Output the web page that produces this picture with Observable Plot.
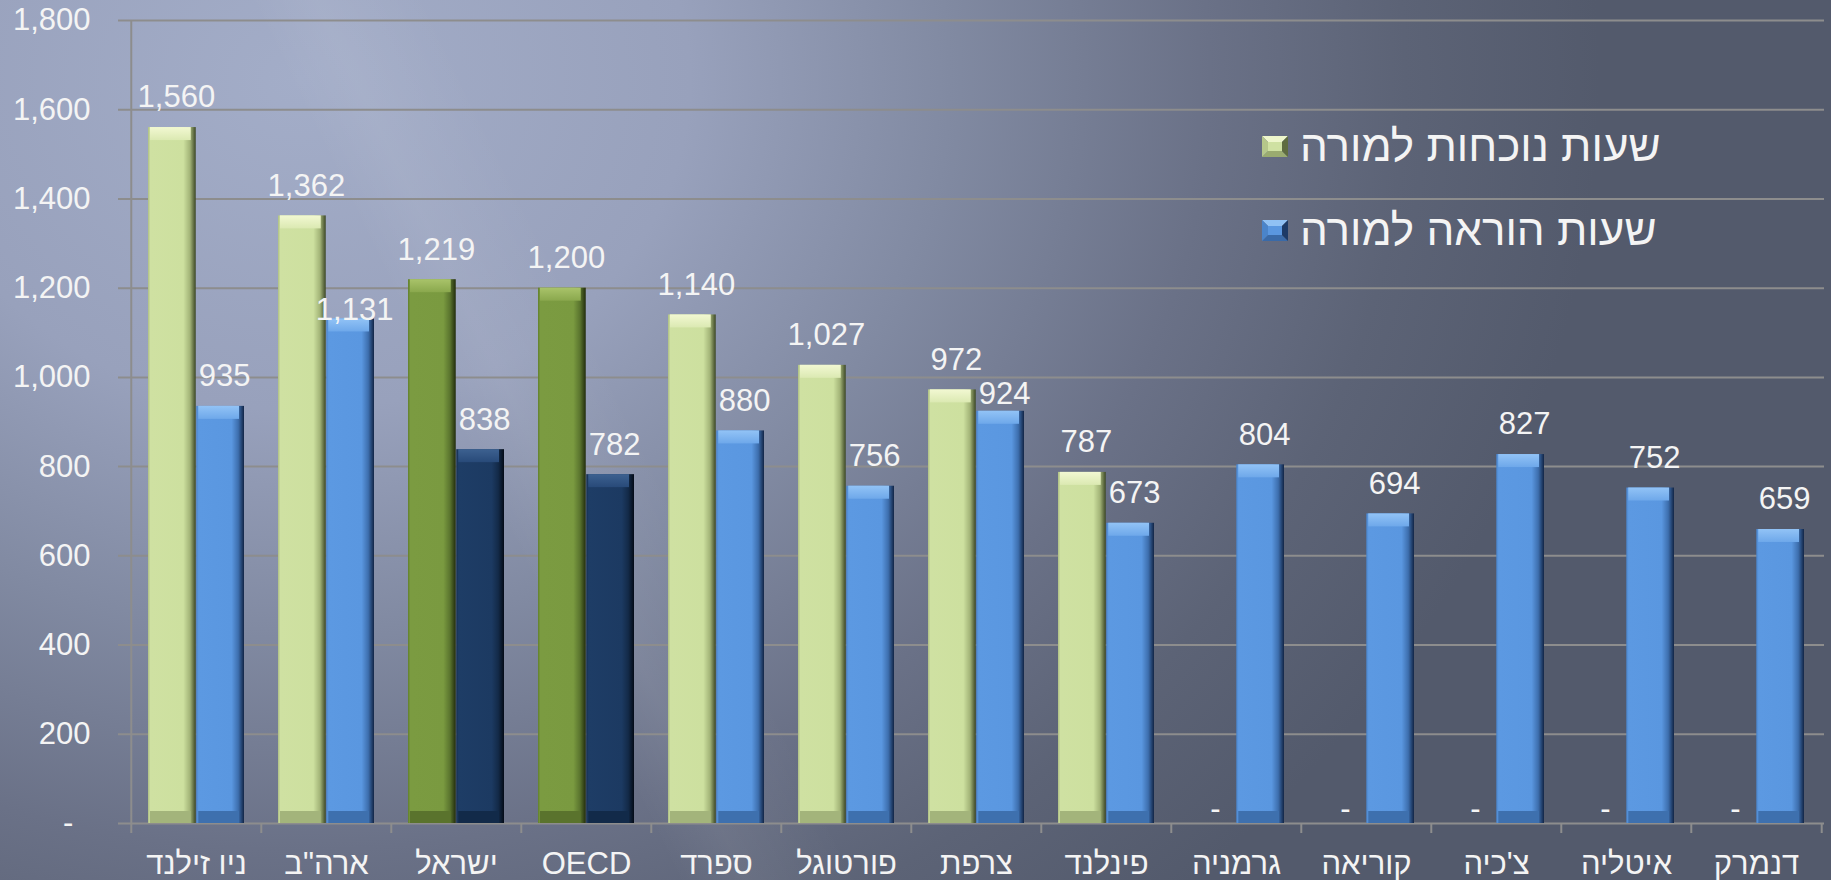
<!DOCTYPE html>
<html><head><meta charset="utf-8">
<script src="https://cdn.jsdelivr.net/npm/d3@7"></script>
<script src="https://cdn.jsdelivr.net/npm/@observablehq/plot@0.6"></script>
<style>
html,body{margin:0;padding:0;}
body{width:1831px;height:880px;overflow:hidden;}
#wrap{position:relative;width:1831px;height:880px;overflow:hidden;
 font-family:"Liberation Sans", Arial, sans-serif;
 background:
  linear-gradient(64deg, rgba(255,255,255,0) 0%, rgba(255,255,255,0) 30%, rgba(255,255,255,0.06) 33%, rgba(255,255,255,0) 38%, rgba(255,255,255,0) 100%),
  radial-gradient(ellipse 1300px 1100px at 300px 80px, #a3adc8 0%, #98a1bc 30%, #818aa2 50%, #6a7187 70%, #5c6376 85%, #535a6c 100%);
 background-color:#50576a;
}
#chart{position:absolute;left:0;top:0;}
#legend{position:absolute;left:1262px;top:104px;color:#f4f4f4;font-size:44px;}
.row{display:flex;align-items:center;height:84px;}
.row svg{margin-right:12px;}
</style></head><body><div id="wrap"><div id="chart"></div><div id="legend"></div></div>
<script>
// ---- data ----
const countries = ["ניו זילנד", "ארה\"ב", "ישראל", "OECD", "ספרד", "פורטוגל", "צרפת", "פינלנד", "גרמניה", "קוריאה", "צ'כיה", "איטליה", "דנמרק"];
const presenceHours = [1560, 1362, 1219, 1200, 1140, 1027, 972, 787, 0, 0, 0, 0, 0];
const teachingHours = [935, 1131, 838, 782, 880, 756, 924, 673, 804, 694, 827, 752, 659];
const highlighted = ["ישראל", "OECD"];
const yTicks = [0, 200, 400, 600, 800, 1000, 1200, 1400, 1600, 1800];
const seriesNames = ["שעות נוכחות למורה", "שעות הוראה למורה"];

// ---- layout ----
const W = 1831, H = 880, mL = 128, mR = 7, mT = 20, mB = 57;
const n = countries.length;
const step = (W - mL - mR) / n;
const padIn = 0.26, padOut = 0.13;
const bw = step * (1 - padIn);
const half = bw / 2;
const plotH = H - mT - mB;
const fmt = d3.format(",");
const gridColor = "#8d8d8d";

const rows = countries.map((c, i) => ({country: c, presence: presenceHours[i], teaching: teachingHours[i], hi: highlighted.includes(c)}));
const presRows = rows.filter(d => d.presence > 0);
const nudged = {"ארה\"ב": -9, "צרפת": -17};
const teachNormal = rows.filter(d => !(d.country in nudged));

const fillBody = (d, s) => s === 0 ? (d.hi ? "url(#gDG)" : "url(#gLG)") : (d.hi ? "url(#gN)" : "url(#gB)");
const fillTop = (d, s) => s === 0 ? (d.hi ? "url(#tDG)" : "url(#tLG)") : (d.hi ? "url(#tN)" : "url(#tB)");
const fillBot = (d, s) => s === 0 ? (d.hi ? "#5a732d" : "#a3b47b") : (d.hi ? "#122a49" : "#3e70ae");

const marks = [
  Plot.ruleY(yTicks, {stroke: gridColor, strokeWidth: 2, insetLeft: -10}),
  Plot.ruleX([countries[0]], {x: d => d, dx: -step / 2, stroke: gridColor, strokeWidth: 2, insetBottom: -10}),
  Plot.ruleX(countries.slice(1), {x: d => d, dx: -step / 2, stroke: gridColor, strokeWidth: 2, insetTop: plotH, insetBottom: -10}),
  Plot.ruleX([countries[n - 1]], {x: d => d, dx: step / 2, stroke: gridColor, strokeWidth: 2, insetTop: plotH, insetBottom: -10}),
  // presence bars
  Plot.barY(presRows, {x: "country", y: "presence", insetRight: half, fill: d => fillBody(d, 0)}),
  Plot.barY(presRows, {x: "country", y1: "presence", y2: "presence", insetRight: half + 5, insetLeft: 2, insetBottom: -13, fill: d => fillTop(d, 0)}),
  Plot.barY(presRows, {x: "country", y1: 0, y2: 0, insetRight: half + 5, insetLeft: 2, insetTop: -12, fill: d => fillBot(d, 0)}),
  // teaching bars
  Plot.barY(rows, {x: "country", y: "teaching", insetLeft: half, fill: d => fillBody(d, 1)}),
  Plot.barY(rows, {x: "country", y1: "teaching", y2: "teaching", insetLeft: half + 2, insetRight: 5, insetBottom: -13, fill: d => fillTop(d, 1)}),
  Plot.barY(rows, {x: "country", y1: 0, y2: 0, insetLeft: half + 2, insetRight: 5, insetTop: -12, fill: d => fillBot(d, 1)}),
  // value labels
  Plot.text(presRows, {x: "country", y: "presence", text: d => fmt(d.presence), dx: -half / 2 + 4, dy: -30, lineAnchor: "middle", fill: "#f4f4f4"}),
  Plot.text(rows.filter(d => d.presence === 0), {x: "country", y: "presence", text: d => "-", dx: -half / 2 + 3, dy: -14, lineAnchor: "middle", fill: "#f4f4f4"}),
  Plot.text(teachNormal, {x: "country", y: "teaching", text: d => fmt(d.teaching), dx: half / 2 + 4, dy: -30, lineAnchor: "middle", fill: "#f4f4f4"}),
  ...rows.filter(d => d.country in nudged).map(r =>
    Plot.text([r], {x: "country", y: "teaching", text: d => fmt(d.teaching), dx: half / 2 + 4, dy: nudged[r.country], lineAnchor: "middle", fill: "#f4f4f4"})),
  Plot.axisY(yTicks, {tickSize: 0, tickPadding: 38, label: null, tickFormat: d => d === 0 ? "-\u00a0\u00a0" : fmt(d), fill: "#f4f4f4"}),
  Plot.axisX({tickSize: 0, tickPadding: 28, label: null, fill: "#f4f4f4"})
];

const chart = Plot.plot({
  width: W, height: H,
  marginLeft: mL, marginRight: mR, marginTop: mT, marginBottom: mB,
  style: {background: "transparent", fontFamily: "'Liberation Sans', Arial, sans-serif", fontSize: "31px", color: "#f4f4f4", overflow: "visible"},
  x: {domain: countries, paddingInner: padIn, paddingOuter: padOut},
  y: {domain: [0, 1800]},
  marks
});

// bevel gradients
const defs = `
<defs>
 <linearGradient id="gLG" x1="0" x2="1" y1="0" y2="0">
  <stop offset="0" stop-color="#aebf85"/><stop offset="0.05" stop-color="#cfe1a2"/><stop offset="0.74" stop-color="#cde09f"/><stop offset="0.88" stop-color="#a2b377"/><stop offset="1" stop-color="#3c4726"/>
 </linearGradient>
 <linearGradient id="gDG" x1="0" x2="1" y1="0" y2="0">
  <stop offset="0" stop-color="#62802d"/><stop offset="0.05" stop-color="#7b9b41"/><stop offset="0.74" stop-color="#7a9a40"/><stop offset="0.88" stop-color="#5a742e"/><stop offset="1" stop-color="#222d0d"/>
 </linearGradient>
 <linearGradient id="gB" x1="0" x2="1" y1="0" y2="0">
  <stop offset="0" stop-color="#4a84ca"/><stop offset="0.05" stop-color="#5c99e2"/><stop offset="0.74" stop-color="#5a97e0"/><stop offset="0.88" stop-color="#3d6ead"/><stop offset="1" stop-color="#122546"/>
 </linearGradient>
 <linearGradient id="gN" x1="0" x2="1" y1="0" y2="0">
  <stop offset="0" stop-color="#162f4f"/><stop offset="0.05" stop-color="#1e3d66"/><stop offset="0.74" stop-color="#1c3a62"/><stop offset="0.88" stop-color="#132a48"/><stop offset="1" stop-color="#040b17"/>
 </linearGradient>
 <linearGradient id="tLG" x1="0" x2="0" y1="0" y2="1"><stop offset="0" stop-color="#f2f8d2"/><stop offset="1" stop-color="#dbe9b2"/></linearGradient>
 <linearGradient id="tDG" x1="0" x2="0" y1="0" y2="1"><stop offset="0" stop-color="#a9c36a"/><stop offset="1" stop-color="#8aa84d"/></linearGradient>
 <linearGradient id="tB" x1="0" x2="0" y1="0" y2="1"><stop offset="0" stop-color="#92c3f6"/><stop offset="1" stop-color="#6ea8ea"/></linearGradient>
 <linearGradient id="tN" x1="0" x2="0" y1="0" y2="1"><stop offset="0" stop-color="#3d6190"/><stop offset="1" stop-color="#284a79"/></linearGradient>
</defs>`;
chart.insertAdjacentHTML("afterbegin", defs);
document.getElementById("chart").appendChild(chart);

// legend
const swatch = (light, face, mid, dark, darker) => `<svg width="26" height="21" viewBox="0 0 26 21">
 <polygon points="0,0 26,0 20,6 6,6" fill="${light}"/>
 <polygon points="0,21 26,21 20,15 6,15" fill="${dark}"/>
 <polygon points="0,0 6,6 6,15 0,21" fill="${mid}"/>
 <polygon points="26,0 20,6 20,15 26,21" fill="${darker}"/>
 <rect x="6" y="6" width="14" height="9" fill="${face}"/></svg>`;
const legendSw = [
  swatch("#eef6cc", "#cfe1a2", "#b5c78a", "#9aab70", "#5f6c40"),
  swatch("#90c1f4", "#5a97e0", "#4a84ca", "#3a6aa8", "#1d3a66")
];
document.getElementById("legend").innerHTML = seriesNames.map((s, i) =>
  `<div class="row">${legendSw[i]}<span dir="rtl">${s}</span></div>`).join("");
</script></body></html>
